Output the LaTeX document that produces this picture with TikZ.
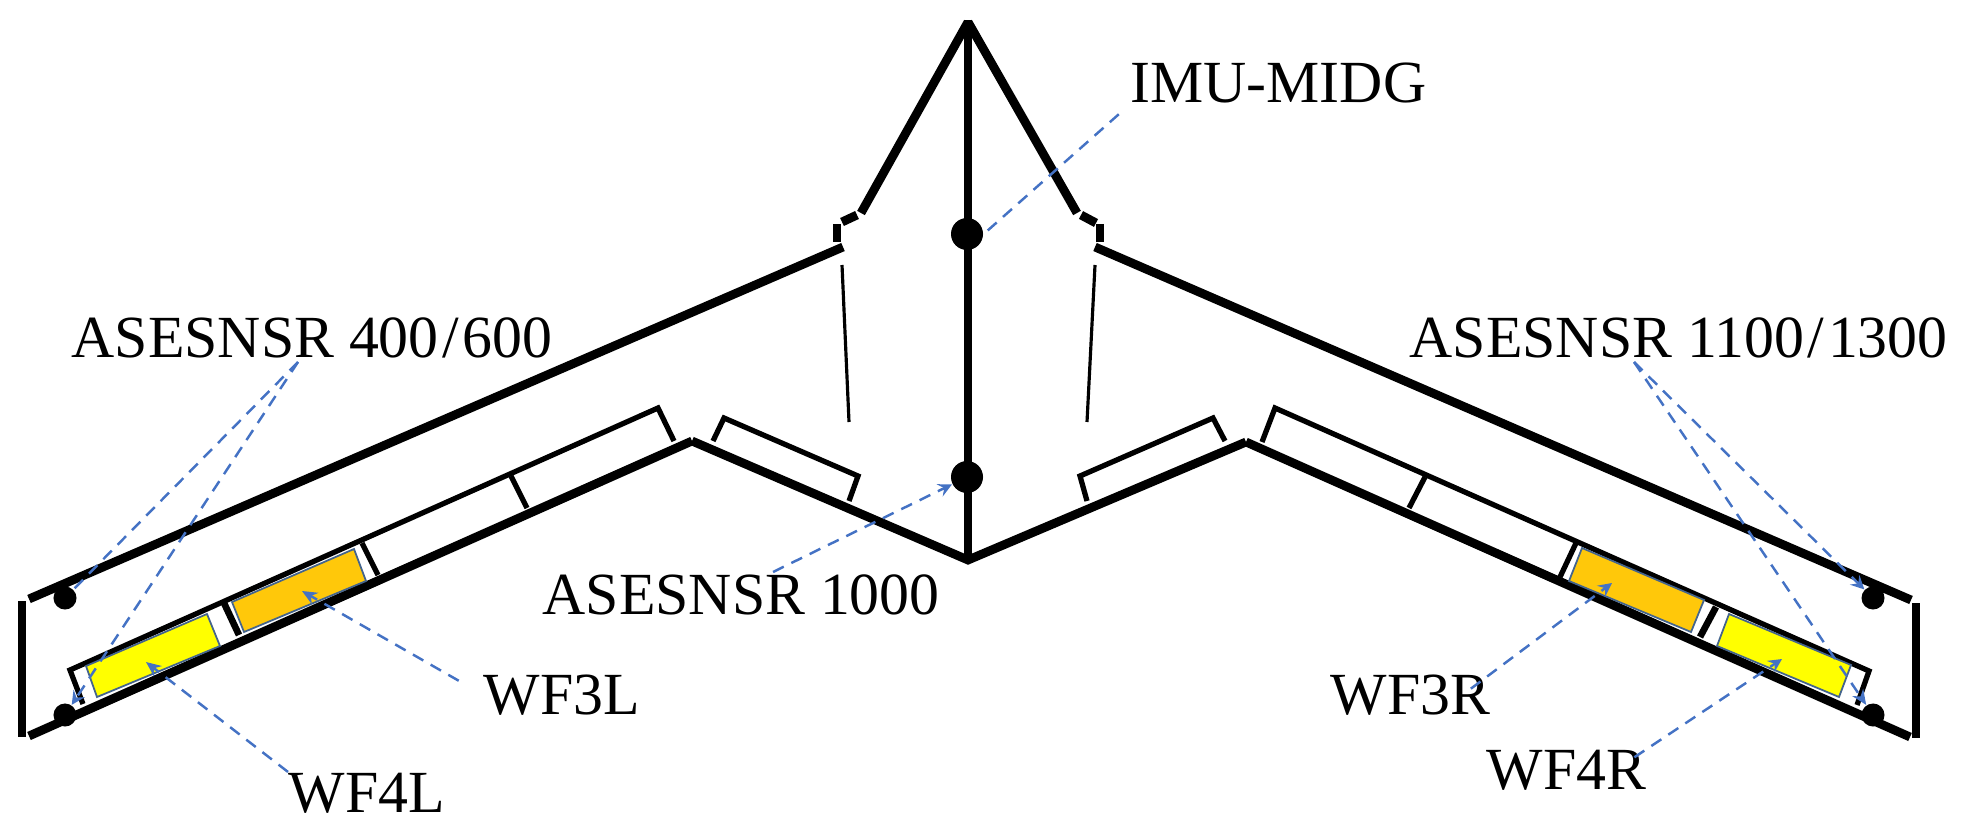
\documentclass[tikz,border=0pt]{standalone}
\usepackage{fontspec}
\usetikzlibrary{arrows.meta}
\setmainfont{Liberation Serif}
\definecolor{calloutblue}{HTML}{4472C4}
\definecolor{wforange}{HTML}{FFC80A}
\definecolor{wfyellow}{HTML}{FFFF00}
\definecolor{wfedge}{HTML}{44648C}
\tikzset{
  wing/.style={line width=2.5pt},
  flap/.style={line width=1.5pt},
  hinge/.style={line width=.9pt},
  sensor/.style={circle,fill=black,inner sep=0pt,minimum size=.23cm},
  bigsensor/.style={circle,fill=black,inner sep=0pt,minimum size=.32cm},
  tag/.style={inner sep=0pt,anchor=base west,font=\fontsize{17}{17}\selectfont},
  callout/.style={->,calloutblue,dash pattern=on 3.4pt off 2.4pt,line width=.7pt},
  bigtip/.style={-{Stealth[length=.15cm,width=.13cm]}},
  foil/.style={draw=wfedge,line width=.5pt}
}
\begin{document}
\begin{tikzpicture}[>=stealth,x=.01cm,y=-.01cm]
\useasboundingbox (0,0) rectangle (1964,837);
% fuselage
\draw[wing](968,20)--(968,560);
\draw[wing](968,22)--(861,213);
\draw[wing](968,22)--(1077,213);
\draw[wing](842,222)--(857,215);
\draw[wing](1081,215)--(1096,223);
\draw[wing](837,224)--(837,242);
\draw[wing](1100,224)--(1100,242);
\draw[hinge](842,265)--(849,422);
\draw[hinge](1095,265)--(1087,422);
% wings
\draw[wing](843,247)--(29,599);
\draw[wing](1095,247)--(1911,600);
\draw[wing](29,736)--(692,441);
\draw[wing](1910,737)--(1246,442);
\draw[wing](692,441)--(968,560)--(1246,442);
\draw[wing](22,601)--(22,737);
\draw[wing](1916,603)--(1916,738);
% flaps
\draw[flap](83,704)--(70,670)--(658,408)--(674,441);
\draw[flap](713,441)--(724,418)--(858,476)--(849,501);
\draw[flap](1225,441)--(1213,418)--(1080,476)--(1087,501);
\draw[flap](1262,442)--(1275,408)--(1869,671)--(1857,705);
\draw[flap](511,476)--(527,508);
\draw[flap](362,543)--(378,575);
\draw[flap](1425,477)--(1409,508);
\draw[flap](1576,543)--(1560,577);
\draw[flap,line width=1.9pt](224,603)--(239,635);
\draw[flap,line width=1.9pt](1716,607)--(1700,637);
% wing foils
\draw[foil,fill=wforange](232,602)--(354,549)--(366,581)--(244,632)--cycle;
\draw[foil,fill=wfyellow](86,666)--(207,614)--(220,646)--(97,697)--cycle;
\draw[foil,fill=wforange](1582,548)--(1704,600)--(1691,632)--(1569,581)--cycle;
\draw[foil,fill=wfyellow](1729,614)--(1851,665)--(1839,697)--(1717,646)--cycle;
% sensors
\node[bigsensor](midg) at (967,234){};
\node[bigsensor](asefront) at (967,477){};
\node[sensor](aseLup) at (65,598){};
\node[sensor](aseLlow) at (65,715){};
\node[sensor](aseRup) at (1873,598){};
\node[sensor](aseRlow) at (1873,715){};
\coordinate (foilL3) at (302,591);
\coordinate (foilL4) at (146,662);
\coordinate (foilR3) at (1612,583);
\coordinate (foilR4) at (1782,659);
\coordinate (aseroot) at (773,572);
\coordinate (aseLroot) at (298,362);
\coordinate (aseRroot) at (1634,362);
% labels
\node[tag](imu) at (1130,103){IMU-MIDG};
\node[tag](aseL) at (71,358){ASESNSR 400\kern1pt/\kern1pt600};
\node[tag](aseR) at (1409,358){ASESNSR 1100\kern1pt/\kern1pt1300};
\node[tag](ase) at (542,614){ASESNSR 1000};
\node[tag](wfLthree) at (483,714){WF3L};
\node[tag](wfLfour) at (288,812){WF4L};
\node[tag](wfRthree) at (1330,714){WF3R};
\node[tag](wfRfour) at (1486,789){WF4R};
% callouts
\draw[callout,-,shorten <=.15cm](imu.south west)--(midg.east);
\draw[callout](aseroot)--(asefront);
\draw[callout,-](aseLroot)--(aseLup);
\draw[callout](aseLroot)--(aseLlow);
\draw[callout](aseRroot)--(aseRup);
\draw[callout,bigtip](aseRroot)--(aseRlow);
\draw[callout,bigtip,shorten <=.28cm](wfLthree.west)--(foilL3);
\draw[callout,bigtip](wfLfour.north west)--(foilL4);
\draw[callout,shorten <=-.25cm](wfRthree.north east)--(foilR3);
\draw[callout,shorten <=-.15cm](wfRfour.north east)--(foilR4);
\end{tikzpicture}
\end{document}
